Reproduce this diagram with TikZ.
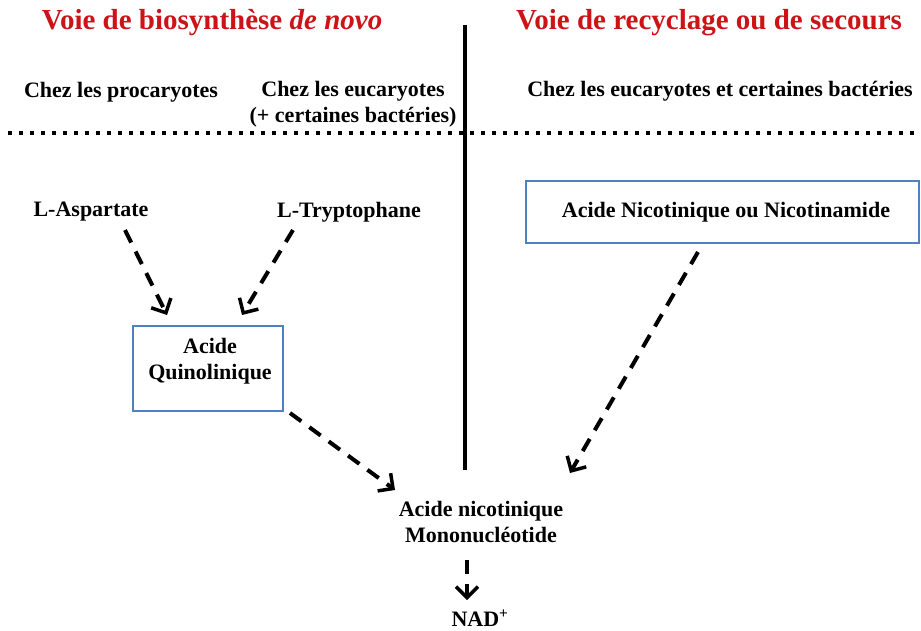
\documentclass[tikz,border=0pt]{standalone}
\usepackage{fontspec}
\setmainfont{Liberation Serif}
\usetikzlibrary{arrows.meta}
\definecolor{titlered}{RGB}{204,20,24}
\definecolor{boxblue}{RGB}{79,129,189}
\begin{document}
\begin{tikzpicture}[x=1pt,y=-1pt,
  txt/.style={font=\fontsize{22}{26}\selectfont\bfseries, inner sep=0pt, align=center},
  ttl/.style={font=\fontsize{29}{34}\selectfont\bfseries, text=titlered, inner sep=0pt},
  bx/.style={draw=boxblue, line width=2.5pt, inner sep=0pt},
  flow/.style={line width=4pt, dash pattern=on 14pt off 10pt,
    -{Straight Barb[length=11pt,width=22pt,line width=3.5pt]}}
]
\useasboundingbox (0,0) rectangle (921,630);
% titles
\node[ttl] (t1) at (212,23) {Voie de biosynthèse \textit{de novo}};
\node[ttl] (t2) at (709,23) {Voie de recyclage ou de secours};
% separators
\draw[line width=4pt] (465,25) -- (465,470);
\draw[line width=4pt, dash pattern=on 3.5pt off 7.5pt] (8,133) -- (918,133);
% headers
\node[txt] (h1) at (121,92) {Chez les procaryotes};
\node[txt] (h2) at (353,104) {Chez les eucaryotes\\(+ certaines bactéries)};
\node[txt] (h3) at (720,91) {Chez les eucaryotes et certaines bactéries};
% nodes
\node[txt] (asp) at (91,212) {L-Aspartate};
\node[txt] (trp) at (349,212) {L-Tryptophane};
\node[bx, minimum width=150pt, minimum height=85pt] (quin) at (208,368.5) {};
\node[txt] (quintxt) at (210,361) {Acide\\Quinolinique};
\node[bx, minimum width=393pt, minimum height=62pt] (nic) at (722.5,212) {};
\node[txt] (nictxt) at (726,212) {Acide Nicotinique ou Nicotinamide};
\node[txt] (nam) at (481,522) {Acide nicotinique\\Mononucléotide};
\node[txt] (nad) at (480,618) {NAD\textsuperscript{+}};
% connector end points
\coordinate (a1) at (125,230);
\coordinate (a2) at (167,315);
\coordinate (b1) at (293,230);
\coordinate (b2) at (242,315);
\coordinate (c1) at (290,413);
\coordinate (c2) at (395,490);
\coordinate (d1) at (698,252);
\coordinate (d2) at (570,473);
\coordinate (e1) at (467,560);
\coordinate (e2) at (467,600);
\draw[flow] (a1) -- (a2);
\draw[flow] (b1) -- (b2);
\draw[flow] (c1) -- (c2);
\draw[flow] (d1) -- (d2);
\draw[flow] (e1) -- (e2);
\end{tikzpicture}
\end{document}
